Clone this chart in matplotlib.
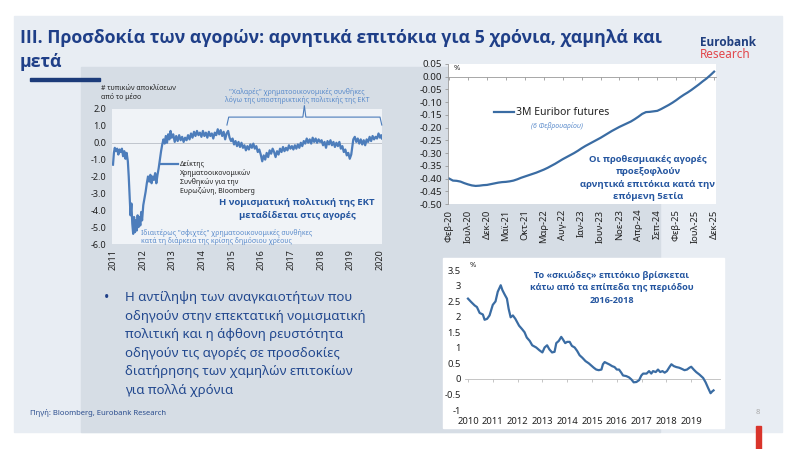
import matplotlib
matplotlib.use('Agg')
import matplotlib.pyplot as plt
from matplotlib.patches import Rectangle

W, H = 798, 449


def fx(x):
    return x / W


def fy(y):
    return 1 - y / H


plt.rcParams['font.family'] = ['Noto Sans', 'DejaVu Sans']
BOLD = ['Open Sans', 'DejaVu Sans']

# ---- data ----
# Bloomberg euro area financial conditions index (st. dev. from mean)
fci_t = [2011.00, 2011.03, 2011.06, 2011.10, 2011.14, 2011.18, 2011.22, 2011.26, 2011.30, 2011.34,
         2011.38, 2011.42, 2011.46, 2011.50, 2011.53, 2011.56, 2011.59, 2011.62, 2011.65, 2011.68,
         2011.71, 2011.74, 2011.77, 2011.80, 2011.83, 2011.86, 2011.89, 2011.92, 2011.95, 2011.98,
         2012.02, 2012.06, 2012.10, 2012.14, 2012.18, 2012.22, 2012.26, 2012.30, 2012.34, 2012.38,
         2012.42, 2012.46, 2012.50, 2012.54, 2012.58, 2012.62, 2012.66, 2012.70, 2012.74, 2012.78,
         2012.82, 2012.86, 2012.90, 2012.94, 2012.98, 2013.03, 2013.08, 2013.13, 2013.18, 2013.23,
         2013.28, 2013.33, 2013.38, 2013.43, 2013.48, 2013.53, 2013.58, 2013.63, 2013.68, 2013.73,
         2013.78, 2013.83, 2013.88, 2013.93, 2013.98, 2014.03, 2014.08, 2014.13, 2014.18, 2014.23,
         2014.28, 2014.33, 2014.38, 2014.43, 2014.48, 2014.53, 2014.58, 2014.63, 2014.68, 2014.73,
         2014.78, 2014.83, 2014.88, 2014.93, 2014.98, 2015.03, 2015.08, 2015.13, 2015.18, 2015.23,
         2015.28, 2015.33, 2015.38, 2015.43, 2015.48, 2015.53, 2015.58, 2015.63, 2015.68, 2015.73,
         2015.78, 2015.83, 2015.88, 2015.93, 2015.98, 2016.03, 2016.08, 2016.13, 2016.18, 2016.23,
         2016.28, 2016.33, 2016.38, 2016.43, 2016.48, 2016.53, 2016.58, 2016.63, 2016.68, 2016.73,
         2016.78, 2016.83, 2016.88, 2016.93, 2016.98, 2017.03, 2017.08, 2017.13, 2017.18, 2017.23,
         2017.28, 2017.33, 2017.38, 2017.43, 2017.48, 2017.53, 2017.58, 2017.63, 2017.68, 2017.73,
         2017.78, 2017.83, 2017.88, 2017.93, 2017.98, 2018.03, 2018.08, 2018.13, 2018.18, 2018.23,
         2018.28, 2018.33, 2018.38, 2018.43, 2018.48, 2018.53, 2018.58, 2018.63, 2018.68, 2018.73,
         2018.78, 2018.83, 2018.88, 2018.93, 2018.98, 2019.03, 2019.06, 2019.10, 2019.15, 2019.20,
         2019.25, 2019.30, 2019.35, 2019.40, 2019.45, 2019.50, 2019.55, 2019.60, 2019.65, 2019.70,
         2019.75, 2019.80, 2019.85, 2019.90, 2019.95, 2020.00, 2020.04, 2020.07]
fci_v = [-1.30, -0.60, -0.30, -0.50, -0.35, -0.70, -0.40, -0.55, -0.35, -0.80,
         -0.50, -0.95, -0.60, -1.10, -2.00, -3.20, -4.30, -3.60, -4.80, -5.40,
         -4.40, -5.30, -4.60, -5.20, -4.30, -5.00, -4.40, -4.90, -4.10, -4.60,
         -3.70, -3.30, -2.90, -2.40, -2.00, -2.30, -1.90, -2.40, -2.00, -2.20,
         -1.80, -2.40, -1.90, -1.50, -1.00, -0.50, -0.10, 0.20, -0.05, 0.40,
         0.00, 0.50, 0.20, 0.70, 0.30, 0.50, 0.05, 0.40, 0.10, 0.45,
         0.15, 0.35, 0.05, 0.30, 0.15, 0.45, 0.20, 0.55, 0.30, 0.65,
         0.40, 0.70, 0.45, 0.60, 0.35, 0.70, 0.40, 0.60, 0.30, 0.65,
         0.40, 0.55, 0.25, 0.60, 0.45, 0.80, 0.50, 0.75, 0.40, 0.65,
         0.20, 0.55, 0.70, 0.30, 0.10, 0.25, -0.10, 0.10, -0.20, 0.05,
         -0.25, 0.00, -0.30, -0.15, -0.45, -0.20, -0.40, -0.10, -0.30, -0.05,
         -0.35, -0.20, -0.55, -0.40, -0.70, -1.10, -0.75, -1.00, -0.60, -0.85,
         -0.45, -0.65, -0.35, -0.55, -0.85, -0.50, -0.70, -0.35, -0.55, -0.25,
         -0.50, -0.30, -0.45, -0.15, -0.35, -0.20, -0.40, -0.15, -0.35, -0.10,
         -0.30, 0.00, -0.20, 0.10, -0.05, 0.25, 0.00, 0.20, -0.05, 0.30,
         0.05, 0.25, 0.00, 0.20, 0.05, 0.15, -0.15, 0.05, -0.30, 0.10,
         -0.10, 0.15, -0.15, 0.05, -0.25, 0.00, -0.20, 0.05, -0.35, -0.20,
         -0.55, -0.40, -0.75, -0.60, -0.95, -0.70, -0.30, 0.20, 0.35, 0.05,
         0.25, -0.05, 0.20, -0.10, 0.15, -0.15, 0.20, 0.05, 0.35, 0.10,
         0.40, 0.20, 0.35, 0.25, 0.55, 0.30, 0.45, 0.25]
fci_years = ['2011', '2012', '2013', '2014', '2015', '2016', '2017', '2018', '2019', '2020']

# 3M Euribor futures curve, monthly Feb-20 .. Dec-25
euribor_vals = [-0.400, -0.408, -0.409, -0.412, -0.418, -0.423, -0.427, -0.429, -0.428, -0.426,
                -0.425, -0.422, -0.419, -0.416, -0.414, -0.413, -0.411, -0.408, -0.403, -0.397,
                -0.392, -0.387, -0.382, -0.377, -0.371, -0.365, -0.358, -0.350, -0.342, -0.333,
                -0.324, -0.316, -0.308, -0.300, -0.291, -0.281, -0.272, -0.264, -0.256, -0.248,
                -0.240, -0.231, -0.222, -0.213, -0.205, -0.197, -0.190, -0.183, -0.176, -0.167,
                -0.157, -0.146, -0.139, -0.138, -0.136, -0.134, -0.127, -0.119, -0.111, -0.102,
                -0.092, -0.081, -0.071, -0.062, -0.052, -0.041, -0.030, -0.018, -0.007, 0.006,
                0.020]
euribor_labels = ['Φεβ-20', 'Ιουλ-20', 'Δεκ-20', 'Μαϊ-21', 'Οκτ-21', 'Μαρ-22', 'Αυγ-22', 'Ιαν-23',
                  'Ιουν-23', 'Νοε-23', 'Απρ-24', 'Σεπ-24', 'Φεβ-25', 'Ιουλ-25', 'Δεκ-25']

# shadow rate (%)
shadow_t = [2010.00, 2010.13, 2010.27, 2010.36, 2010.47, 2010.60, 2010.67, 2010.77, 2010.87, 2011.00,
            2011.11, 2011.20, 2011.32, 2011.39, 2011.48, 2011.57, 2011.64, 2011.72, 2011.81, 2011.91,
            2012.06, 2012.18, 2012.28, 2012.37, 2012.49, 2012.59, 2012.75, 2012.88, 2013.00, 2013.09,
            2013.19, 2013.28, 2013.39, 2013.49, 2013.56, 2013.66, 2013.76, 2013.82, 2013.92, 2014.00,
            2014.10, 2014.19, 2014.30, 2014.40, 2014.50, 2014.61, 2014.74, 2014.87, 2014.97, 2015.07,
            2015.17, 2015.27, 2015.38, 2015.44, 2015.51, 2015.61, 2015.71, 2015.81, 2015.91, 2016.00,
            2016.09, 2016.18, 2016.25, 2016.38, 2016.49, 2016.59, 2016.68, 2016.79, 2016.90, 2016.99,
            2017.06, 2017.20, 2017.30, 2017.39, 2017.46, 2017.57, 2017.66, 2017.75, 2017.84, 2017.93,
            2018.02, 2018.13, 2018.20, 2018.30, 2018.40, 2018.51, 2018.60, 2018.73, 2018.83, 2018.93,
            2019.00, 2019.10, 2019.20, 2019.33, 2019.48, 2019.58, 2019.68, 2019.78, 2019.85, 2019.90]
shadow_v = [2.58, 2.47, 2.36, 2.31, 2.12, 2.07, 1.90, 1.93, 2.04, 2.38,
            2.49, 2.80, 3.01, 2.85, 2.71, 2.58, 2.25, 1.98, 2.04, 1.93,
            1.71, 1.60, 1.50, 1.33, 1.22, 1.08, 1.01, 0.92, 0.85, 1.01,
            1.08, 0.95, 0.85, 0.87, 1.15, 1.22, 1.35, 1.28, 1.15, 1.19,
            1.19, 1.06, 1.01, 0.90, 0.76, 0.68, 0.57, 0.50, 0.43, 0.36,
            0.30, 0.28, 0.30, 0.47, 0.54, 0.50, 0.46, 0.41, 0.38, 0.30,
            0.30, 0.20, 0.11, 0.09, 0.05, -0.02, -0.11, -0.10, -0.04, 0.11,
            0.17, 0.17, 0.25, 0.17, 0.25, 0.22, 0.30, 0.22, 0.25, 0.20,
            0.25, 0.39, 0.47, 0.41, 0.38, 0.36, 0.33, 0.28, 0.30, 0.36,
            0.39, 0.30, 0.22, 0.14, 0.03, -0.11, -0.29, -0.46, -0.40, -0.37]
shadow_years = list(range(2010, 2020))

# ---- colours ----
navy = '#1f3f88'
blue_bold = '#2556a0'
blue_light = '#5a8bcb'
line_left = '#4d7dbb'
line_right = '#3a6ca3'
txt = '#222222'

fig = plt.figure(figsize=(W / 100, H / 100), dpi=100)
fig.patch.set_facecolor('white')

# slide backgrounds
fig.patches.append(Rectangle((fx(14), fy(432)), (782 - 14) / W, (432 - 16) / H,
                             transform=fig.transFigure, color='#e8edf3', zorder=-10))
fig.patches.append(Rectangle((fx(81), fy(432)), (660 - 81) / W, (432 - 67) / H,
                             transform=fig.transFigure, color='#d6dde5', zorder=-9))
fig.patches.append(Rectangle((fx(443), fy(428)), (724 - 443) / W, (428 - 258) / H,
                             transform=fig.transFigure, color='white', zorder=-8))
fig.patches.append(Rectangle((fx(30), fy(81)), 70 / W, 3.5 / H,
                             transform=fig.transFigure, color='#1d3c7a', zorder=-7))
fig.patches.append(Rectangle((fx(756), fy(449)), 4.5 / W, 23 / H,
                             transform=fig.transFigure, color='#d9342b', zorder=-7))

# title + logo
fig.text(fx(20), fy(38), 'III. Προσδοκία των αγορών: αρνητικά επιτόκια για 5 χρόνια, χαμηλά και',
         fontsize=12.8, fontweight='bold', family=BOLD, color=navy, va='center')
fig.text(fx(20), fy(62), 'μετά', fontsize=12.8, fontweight='bold', family=BOLD, color=navy, va='center')
fig.text(fx(700), fy(42), 'Eurobank', fontsize=8.5, fontweight='bold', family=BOLD,
         color='#1f3f7f', va='center')
fig.text(fx(700), fy(54), 'Research', fontsize=8.5, color='#e2474c', va='center')

# bullet text
bullet = ('Η αντίληψη των αναγκαιοτήτων που\nοδηγούν στην επεκτατική νομισματική\n'
          'πολιτική και η άφθονη ρευστότητα\nοδηγούν τις αγορές σε προσδοκίες\n'
          'διατήρησης των χαμηλών επιτοκίων\nγια πολλά χρόνια')
fig.text(fx(104), fy(298), '•', fontsize=10, color=navy, va='center')
fig.text(fx(125), fy(291), bullet, fontsize=9.5, color='#23498f', va='top', linespacing=1.56)

fig.text(fx(30), fy(413), 'Πηγή: Bloomberg, Eurobank Research', fontsize=5.5, color='#2d4f8f', va='center')
fig.text(fx(758), fy(412), '8', fontsize=5.5, color='#aaaaaa', va='center', ha='center')

# ---- left chart: financial conditions ----
ax1 = fig.add_axes([fx(112), fy(244), 270 / W, 135 / H])
ax1.set_facecolor('#f0f3f7')
ax1.plot(fci_t, fci_v, color=line_left, lw=1.6)
ax1.axhline(0, color='#b8bec6', lw=0.6, zorder=0)
ax1.set_xlim(2010.966, 2020.067)
ax1.set_ylim(-6, 2)
ax1.set_yticks(range(-6, 3))
ax1.set_yticklabels([f'{v:.1f}' for v in range(-6, 3)])
ax1.set_xticks([int(y) for y in fci_years])
ax1.set_xticklabels(fci_years, rotation=90)
ax1.tick_params(length=0, labelsize=6.5, colors=txt, pad=4)
for s in ax1.spines.values():
    s.set_visible(False)

fig.text(fx(101), fy(93), '# τυπικών αποκλίσεων\nαπό το μέσο', fontsize=5, color=txt,
         va='center', linespacing=1.1)
fig.text(fx(297), fy(96), '"Χαλαρές" χρηματοοικονομικές συνθήκες\nλόγω της υποστηρικτικής πολιτικής της ΕΚΤ',
         fontsize=5, color=blue_light, va='center', ha='center', linespacing=1.15)
# bracket
ax1.plot([2014.84, 2014.9, 2017.40, 2017.45, 2017.50, 2020.0, 2020.06],
         [1.05, 1.52, 1.52, 2.2, 1.52, 1.52, 1.05], color=line_left, lw=0.8, clip_on=False)
# legend
ax1.plot([0.18, 0.245], [0.595, 0.595], transform=ax1.transAxes, color=line_left, lw=1.6)
ax1.text(0.25, 0.62, 'Δείκτης\nΧρηματοοικονομικών\nΣυνθηκών για την\nΕυρωζώνη, Bloomberg',
         transform=ax1.transAxes, fontsize=5, color=txt, va='top', linespacing=1.15)
fig.text(fx(297), fy(209), 'Η νομισματική πολιτική της ΕΚΤ\nμεταδίδεται στις αγορές',
         fontsize=6.8, fontweight='bold', family=BOLD, color=blue_bold, ha='center', va='center',
         linespacing=1.5)
fig.text(fx(141), fy(237), 'Ιδιαιτέρως "σφιχτές" χρηματοοικονομικές συνθήκες\nκατά τη διάρκεια της κρίσης δημόσιου χρέους',
         fontsize=5, color=blue_light, va='center', linespacing=1.15)

# ---- top right: Euribor futures ----
ax2 = fig.add_axes([fx(448), fy(204), 268 / W, 140 / H])
ax2.set_facecolor('white')
months = list(range(len(euribor_vals)))
ax2.plot(months, euribor_vals, color=line_right, lw=1.6)
ax2.set_xlim(-0.3, 70.5)
ax2.set_ylim(-0.5, 0.05)
yt = [-0.5 + 0.05 * i for i in range(12)]
ax2.set_yticks(yt)
ax2.set_yticklabels([f'{v:.2f}' if abs(v) > 1e-9 else '0.00' for v in yt])
xt = months[::5]
ax2.set_xticks(xt)
ax2.set_xticklabels(euribor_labels, rotation=90)
ax2.tick_params(axis='x', length=0, labelsize=6.8, colors=txt, pad=4)
ax2.tick_params(axis='y', length=2.5, width=0.6, color='#999999', labelsize=7, labelcolor=txt, pad=2)
for k in ['top', 'right', 'bottom']:
    ax2.spines[k].set_visible(False)
ax2.spines['left'].set_color('#999999')
ax2.spines['left'].set_linewidth(0.6)
sec2 = ax2.secondary_xaxis(0.5 / 0.55)
sec2.set_xticks(xt)
sec2.tick_params(direction='in', length=2.5, width=0.6, color='#999999', labeltop=False, labelbottom=False)
for s in sec2.spines.values():
    s.set_color('#999999')
    s.set_linewidth(0.6)
ax2.text(0.02, 0.99, '%', transform=ax2.transAxes, fontsize=5.5, color=txt, va='top')
ax2.plot([0.17, 0.245], [0.655, 0.655], transform=ax2.transAxes, color=line_right, lw=1.6)
ax2.text(0.255, 0.655, '3M Euribor futures', transform=ax2.transAxes, fontsize=7.5, color=txt, va='center')
fig.text(fx(557), fy(126), '(6 Φεβρουαρίου)', fontsize=5, style='italic', color=blue_light,
         ha='center', va='center')
fig.text(fx(648), fy(178), 'Οι προθεσμιακές αγορές\nπροεξοφλούν\nαρνητικά επιτόκια κατά την\nεπόμενη 5ετία',
         fontsize=6.8, fontweight='bold', family=BOLD, color=blue_bold, ha='center', va='center',
         linespacing=1.45)

# ---- bottom right: shadow rate ----
ax3 = fig.add_axes([fx(465), fy(410), 255 / W, 140 / H])
ax3.set_facecolor('none')
ax3.plot(shadow_t, shadow_v, color=line_right, lw=1.6)
ax3.set_xlim(2009.88, 2020.16)
ax3.set_ylim(-1, 3.5)
yt3 = [-1, -0.5, 0, 0.5, 1, 1.5, 2, 2.5, 3, 3.5]
ax3.set_yticks(yt3)
ax3.set_yticklabels([f'{v:g}' for v in yt3])
ax3.set_xticks(shadow_years)
ax3.set_xticklabels([str(y) for y in shadow_years])
ax3.tick_params(axis='both', length=0, labelsize=6.8, colors=txt)
ax3.tick_params(axis='y', pad=3)
ax3.tick_params(axis='x', pad=5)
for s in ax3.spines.values():
    s.set_visible(False)
sec3 = ax3.secondary_xaxis(1 / 4.5)
sec3.set_xticks(shadow_years)
sec3.tick_params(direction='out', length=2.5, width=0.6, color='#bbbbbb', labelbottom=False, labeltop=False)
for s in sec3.spines.values():
    s.set_color('#bbbbbb')
    s.set_linewidth(0.6)
ax3.text(0.02, 1.035, '%', transform=ax3.transAxes, fontsize=5.5, color=txt, va='center')
fig.text(fx(612), fy(288), 'Το «σκιώδες» επιτόκιο βρίσκεται\nκάτω από τα επίπεδα της περιόδου\n2016-2018',
         fontsize=6.6, fontweight='bold', family=BOLD, color=blue_bold, ha='center', va='center',
         linespacing=1.5)

fig.savefig('out.png', dpi=100)
